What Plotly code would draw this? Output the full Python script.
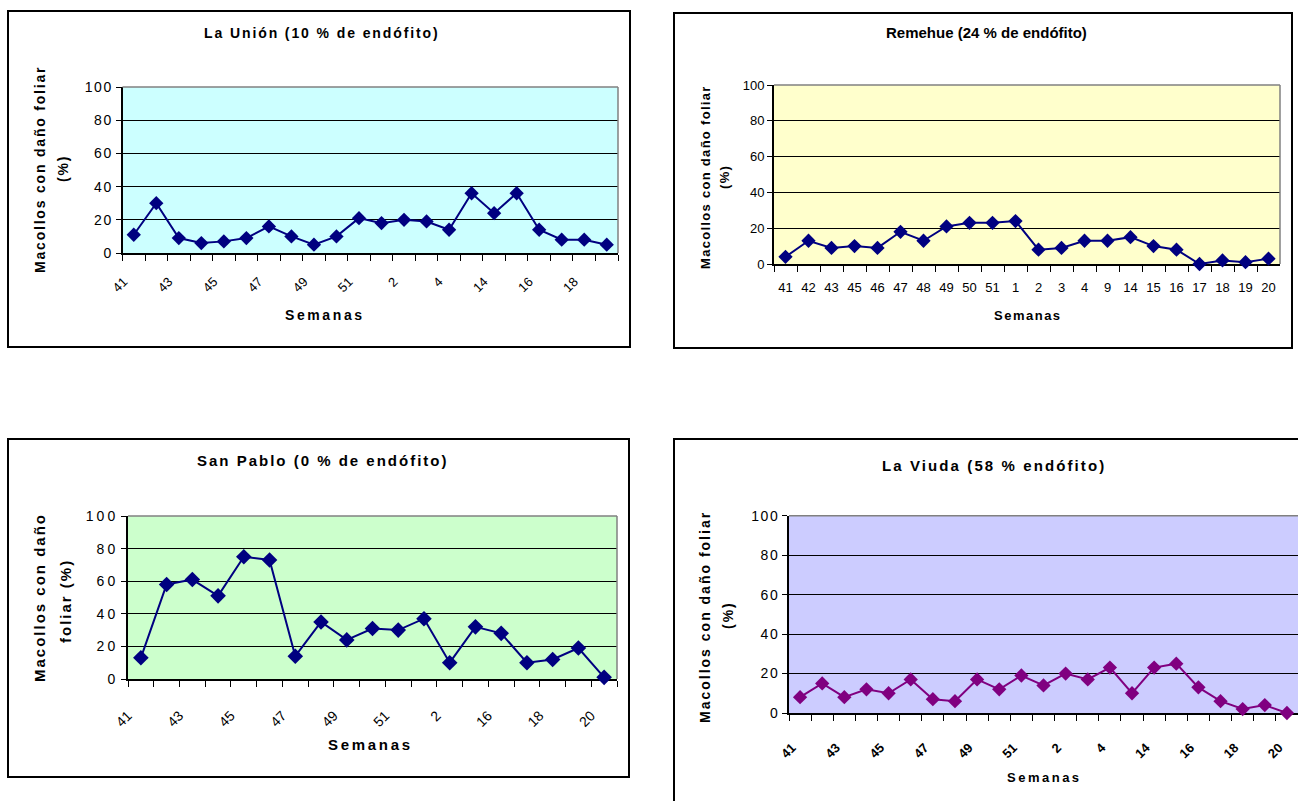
import plotly.graph_objects as go

W, H = 1298, 801

# Semanas muestreadas y % de macollos con daño foliar en cada localidad
semanas_union = ["41", "42", "43", "44", "45", "46", "47", "48", "49", "50", "51",
                 "1", "2", "3", "4", "9", "14", "15", "16", "17", "18", "20"]
dano_union = [11, 30, 9, 6, 7, 9, 16, 10, 5, 10, 21, 18, 20, 19, 14, 36, 24, 36, 14, 8, 8, 5]

semanas_remehue = ["41", "42", "43", "45", "46", "47", "48", "49", "50", "51",
                   "1", "2", "3", "4", "9", "14", "15", "16", "17", "18", "19", "20"]
dano_remehue = [4, 13, 9, 10, 9, 18, 13, 21, 23, 23, 24, 8, 9, 13, 13, 15, 10, 8, 0, 2, 1, 3]

semanas_sanpablo = ["41", "42", "43", "44", "45", "46", "47", "48", "49", "50", "51",
                    "1", "2", "15", "16", "17", "18", "19", "20"]
dano_sanpablo = [13, 58, 61, 51, 75, 73, 14, 35, 24, 31, 30, 37, 10, 32, 28, 10, 12, 19, 1]

semanas_viuda = ["41", "42", "43", "44", "45", "46", "47", "48", "49", "50", "51",
                 "1", "2", "3", "4", "9", "14", "15", "16", "17", "18", "19", "20"]
dano_viuda = [8, 15, 8, 12, 10, 17, 7, 6, 17, 12, 19, 14, 20, 17, 23, 10, 23, 25, 13, 6, 2, 4, 0]

y_ticks = [0, 20, 40, 60, 80, 100]

FONT = "Liberation Sans, Arial, sans-serif"


def fx(px):
    return px / W


def fy(py):
    return 1 - py / H


def spaced(text, ls):
    if not ls:
        return text
    return f'<span style="letter-spacing:{ls}px">{text}</span>'


panels = [
    dict(weeks=semanas_union, vals=dano_union, color="#000080", bg="#CCFFFF",
         title="La Unión (10 % de endófito)",
         ytitle=["Macollos con daño foliar", "(%)"],
         plot=(122.5, 87, 618, 253), box=(8, 11, 630, 347), box_open=False,
         title_xy=(322, 33), title_fs=14, title_ls=1.9,
         yt_x=(40, 63), yt_y=(170, 169), yt_fs=14, yt_ls=1.8,
         sem_xy=(325, 315), sem_fs=14, sem_ls=2.6,
         ytick_fs=14, ytick_ls=1.5,
         xtick_fs=13, xtick_bold=False, xangle=-45, every=2,
         xshift=-10, xstand=14, msize=11, right_border=True),
    dict(weeks=semanas_remehue, vals=dano_remehue, color="#000080", bg="#FFFFCC",
         title="Remehue (24 % de endófito)",
         ytitle=["Macollos con daño foliar", "(%)"],
         plot=(774, 85, 1280, 264), box=(674, 13, 1292, 348), box_open=False,
         title_xy=(986, 33), title_fs=15, title_ls=0,
         yt_x=(705, 724), yt_y=(177, 177), yt_fs=13, yt_ls=1.3,
         sem_xy=(1028, 315), sem_fs=13, sem_ls=1.5,
         ytick_fs=13, ytick_ls=0,
         xtick_fs=13, xtick_bold=False, xangle=0, every=1,
         xshift=0, xstand=10, msize=11, right_border=True),
    dict(weeks=semanas_sanpablo, vals=dano_sanpablo, color="#000080", bg="#CCFFCC",
         title="San Pablo (0 % de endófito)",
         ytitle=["Macollos con daño", "foliar (%)"],
         plot=(128, 516, 617, 679), box=(8, 439, 629, 777), box_open=False,
         title_xy=(323, 461), title_fs=15, title_ls=2.0,
         yt_x=(39, 65), yt_y=(598, 601), yt_fs=15, yt_ls=2.0,
         sem_xy=(370, 744), sem_fs=15, sem_ls=2.7,
         ytick_fs=14, ytick_ls=3,
         xtick_fs=14, xtick_bold=False, xangle=-45, every=2,
         xshift=-13, xstand=21, msize=12, right_border=True),
    dict(weeks=semanas_viuda, vals=dano_viuda, color="#800080", bg="#CCCCFF",
         title="La Viuda (58 % endófito)",
         ytitle=["Macollos con daño foliar", "(%)"],
         plot=(789, 515.7, 1298, 713), box=(674, 439, 1298, 801), box_open=True,
         title_xy=(994, 465), title_fs=15, title_ls=2.1,
         yt_x=(705, 728), yt_y=(617, 615), yt_fs=14, yt_ls=2,
         sem_xy=(1044, 777), sem_fs=13, sem_ls=2.5,
         ytick_fs=14, ytick_ls=1.5,
         xtick_fs=13, xtick_bold=True, xangle=-45, every=2,
         xshift=-8, xstand=20, msize=11, right_border=False),
]

fig = go.Figure()
layout = dict(width=W, height=H,
              margin=dict(l=0, r=0, t=0, b=0, pad=0, autoexpand=False),
              paper_bgcolor="white", plot_bgcolor="rgba(0,0,0,0)",
              showlegend=False, font=dict(family=FONT, color="black"))
shapes = []
annotations = []

for i, p in enumerate(panels, start=1):
    xid = "x" if i == 1 else f"x{i}"
    yid = "y" if i == 1 else f"y{i}"
    xkey = "xaxis" if i == 1 else f"xaxis{i}"
    ykey = "yaxis" if i == 1 else f"yaxis{i}"
    n = len(p["weeks"])
    x0, y0, x1, y1 = p["plot"]

    fig.add_trace(go.Scatter(
        x=p["weeks"], y=p["vals"], mode="lines+markers",
        line=dict(color=p["color"], width=2),
        marker=dict(symbol="diamond", size=p["msize"], color=p["color"]),
        xaxis=xid, yaxis=yid, cliponaxis=False, hoverinfo="x+y"))

    ticktext = [w if k % p["every"] == 0 else "" for k, w in enumerate(p["weeks"])]
    layout[xkey] = dict(
        domain=[fx(x0), min(fx(x1), 1.0)], anchor=yid, type="category",
        range=[-0.5, n - 0.5], tickmode="array", tickvals=p["weeks"], ticktext=ticktext,
        tickson="boundaries", ticks="outside", ticklen=6, tickwidth=1, tickcolor="black",
        showline=True, linecolor="black", linewidth=2, showgrid=False, zeroline=False,
        tickangle=p["xangle"], automargin=False,
        tickfont=dict(family=FONT, size=p["xtick_fs"], color="black",
                      weight="bold" if p["xtick_bold"] else "normal"),
        ticklabelshift=p["xshift"], ticklabelstandoff=p["xstand"],
        layer="below traces", fixedrange=True)
    layout[ykey] = dict(
        domain=[fy(y1), fy(y0)], anchor=xid, range=[0, 100],
        tickmode="array", tickvals=y_ticks,
        ticktext=[spaced(str(v), p["ytick_ls"]) for v in y_ticks],
        ticks="outside", ticklen=5, tickwidth=1, tickcolor="black",
        showline=True, linecolor="black", linewidth=2, automargin=False,
        showgrid=True, gridcolor="black", gridwidth=1, zeroline=False,
        tickfont=dict(family=FONT, size=p["ytick_fs"], color="black"),
        layer="below traces", fixedrange=True)

    # plot area fill
    shapes.append(dict(type="rect", xref=f"{xid} domain", yref=f"{yid} domain",
                       x0=0, x1=1, y0=0, y1=1, fillcolor=p["bg"],
                       line=dict(width=0), layer="below"))
    # grey frame on top / right of plot area
    shapes.append(dict(type="line", xref=f"{xid} domain", yref=f"{yid} domain",
                       x0=0, x1=1, y0=1, y1=1, line=dict(color="#808080", width=1.5),
                       layer="above"))
    if p["right_border"]:
        shapes.append(dict(type="line", xref=f"{xid} domain", yref=f"{yid} domain",
                           x0=1, x1=1, y0=0, y1=1, line=dict(color="#808080", width=1.5),
                           layer="above"))
    # chart border (the last chart runs past the page edge: only left and top drawn)
    bx0, by0, bx1, by1 = p["box"]
    if p["box_open"]:
        path = f"M {fx(bx0)} {fy(by1) - 0.01} L {fx(bx0)} {fy(by0)} L {fx(bx1) + 0.01} {fy(by0)}"
        shapes.append(dict(type="path", xref="paper", yref="paper", path=path,
                           line=dict(color="black", width=2), layer="above"))
    else:
        shapes.append(dict(type="rect", xref="paper", yref="paper",
                           x0=fx(bx0), x1=fx(bx1), y0=fy(by1), y1=fy(by0),
                           line=dict(color="black", width=2), fillcolor="rgba(0,0,0,0)",
                           layer="above"))

    # chart title
    tx, ty = p["title_xy"]
    annotations.append(dict(text=spaced(p["title"], p["title_ls"]), xref="paper", yref="paper",
                            x=fx(tx), y=fy(ty), xanchor="center", yanchor="middle",
                            showarrow=False,
                            font=dict(family=FONT, size=p["title_fs"], color="black", weight="bold")))
    # y axis title, two lines
    for line_txt, lx, ly in zip(p["ytitle"], p["yt_x"], p["yt_y"]):
        annotations.append(dict(text=spaced(line_txt, p["yt_ls"]), xref="paper", yref="paper",
                                x=fx(lx), y=fy(ly), xanchor="center", yanchor="middle",
                                textangle=-90, showarrow=False,
                                font=dict(family=FONT, size=p["yt_fs"], color="black", weight="bold")))
    # x axis title
    sx, sy = p["sem_xy"]
    annotations.append(dict(text=spaced("Semanas", p["sem_ls"]), xref="paper", yref="paper",
                            x=fx(sx), y=fy(sy), xanchor="center", yanchor="middle",
                            showarrow=False,
                            font=dict(family=FONT, size=p["sem_fs"], color="black", weight="bold")))

layout["shapes"] = shapes
layout["annotations"] = annotations
fig.update_layout(**layout)

fig.write_html("out.html", config={"displayModeBar": False})
